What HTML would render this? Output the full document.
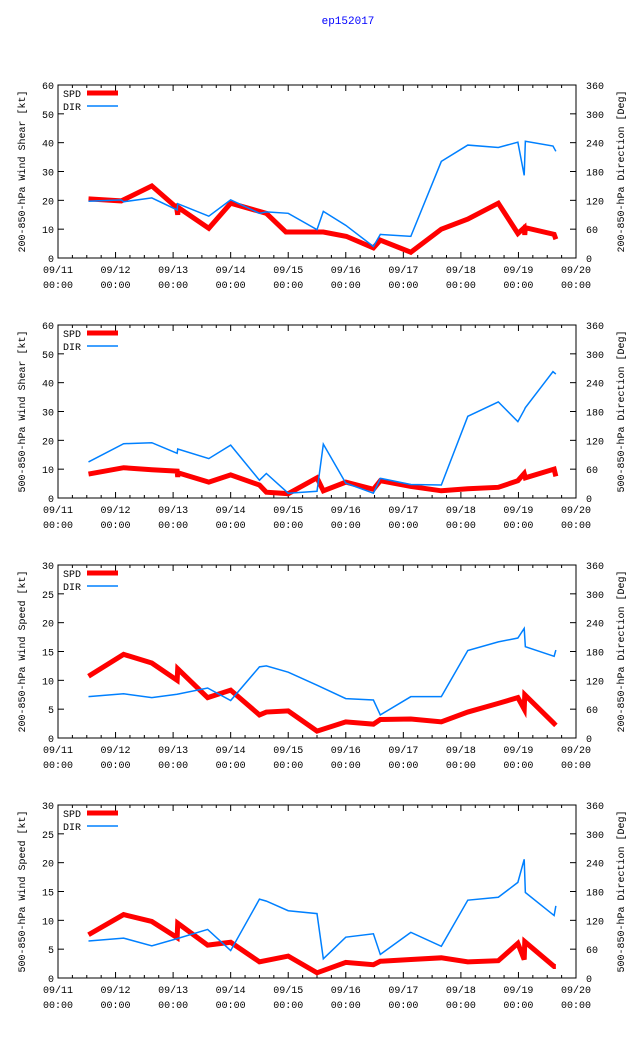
<!DOCTYPE html>
<html><head><meta charset="utf-8"><style>
body{margin:0;background:#fff}
svg{display:block;font-family:"Liberation Mono","DejaVu Sans Mono",monospace;font-size:10px}
</style></head><body>
<svg id="chart" width="640" height="1060">
<text x="348" y="24" fill="#0000ff" text-anchor="middle" font-size="11">ep152017</text>
</svg>
<script>
const xTickLabels=["09/11","09/12","09/13","09/14","09/15","09/16","09/17","09/18","09/19","09/20"];
const panelTitlesLeft=["200-850-hPa Wind Shear [kt]","500-850-hPa Wind Shear [kt]","200-850-hPa Wind Speed [kt]","500-850-hPa Wind Speed [kt]"];
const panelTitlesRight=["200-850-hPa Direction [Deg]","500-850-hPa Direction [Deg]","200-850-hPa Direction [Deg]","500-850-hPa Direction [Deg]"];
const leftMax=[60,60,30,30];
const rightTicks=[0,60,120,180,240,300,360];
const spd1=[[0.53,20.5],[1.1,19.8],[1.63,25],[2.06,17.5],[2.08,15],[2.09,17.5],[2.62,10.3],[3.0,19],[3.62,15.5],[3.96,9],[4.61,9],[5.01,7.5],[5.48,3.5],[5.6,6.2],[6.13,2],[6.66,10],[7.12,13.5],[7.65,19],[7.99,8.5],[8.1,10.5],[8.11,8],[8.12,10.5],[8.62,8.2],[8.65,6.5]];
const dir1=[[0.53,118],[1.1,121],[1.14,117],[1.63,125],[2.07,100],[2.08,113],[2.62,87],[3.0,121],[3.5,93],[3.62,96],[4.0,93],[4.5,59],[4.61,97],[5.0,68],[5.48,24],[5.6,49],[6.13,45],[6.66,201],[7.12,235],[7.65,230],[7.99,241],[8.1,172],[8.12,243],[8.6,233],[8.65,222]];
const spd2=[[0.53,8.3],[1.14,10.5],[1.63,9.8],[2.07,9.3],[2.08,7.3],[2.09,8.7],[2.62,5.5],[3.0,8],[3.5,4.5],[3.62,2],[4.0,1.5],[4.5,7],[4.61,2.5],[5.0,5.5],[5.48,3],[5.6,6],[6.13,4],[6.66,2.5],[7.12,3.2],[7.65,3.7],[7.99,6],[8.1,8.5],[8.12,7],[8.62,10],[8.65,7.5]];
const dir2=[[0.53,75],[1.14,113],[1.63,115],[2.07,93],[2.08,102],[2.62,82],[3.0,110],[3.5,37],[3.62,51],[4.0,10],[4.5,14],[4.61,112],[5.0,31],[5.48,10],[5.6,41],[6.13,28],[6.66,27],[7.12,170],[7.65,200],[7.99,159],[8.1,183],[8.12,188],[8.6,263],[8.65,258]];
const spd3=[[0.53,10.7],[1.14,14.5],[1.63,13],[2.07,10],[2.08,12],[2.6,7],[3.0,8.3],[3.5,4],[3.62,4.5],[4.0,4.7],[4.5,1.2],[5.0,2.8],[5.48,2.4],[5.6,3.2],[6.13,3.3],[6.66,2.8],[7.12,4.5],[7.65,6],[7.99,7],[8.1,5],[8.11,7.5],[8.62,2.5],[8.65,2.8]];
const dir3=[[0.53,86],[1.14,92],[1.63,84],[2.07,91],[2.6,104],[3.0,78],[3.5,148],[3.62,150],[4.0,137],[4.5,110],[5.0,82],[5.48,79],[5.6,48],[6.13,86],[6.66,86],[7.12,182],[7.65,200],[7.99,208],[8.1,228],[8.12,190],[8.62,170],[8.65,183]];
const spd4=[[0.53,7.5],[1.14,11],[1.63,9.8],[2.07,7],[2.08,9.5],[2.6,5.7],[3.0,6.2],[3.5,2.8],[4.0,3.8],[4.5,0.9],[5.0,2.7],[5.48,2.3],[5.6,2.9],[6.13,3.2],[6.66,3.5],[7.12,2.8],[7.65,3],[7.99,6],[8.1,3.2],[8.11,6.3],[8.62,2],[8.65,2]];
const dir4=[[0.53,77],[1.14,83],[1.63,67],[2.07,82],[2.6,101],[3.0,57],[3.5,164],[3.62,160],[4.0,140],[4.5,134],[4.61,40],[5.0,85],[5.48,92],[5.6,49],[6.13,95],[6.66,66],[7.12,162],[7.65,168],[7.99,199],[8.1,247],[8.12,178],[8.62,130],[8.65,150]];
const spdSeries=[spd1,spd2,spd3,spd4];
const dirSeries=[dir1,dir2,dir3,dir4];

const svg=document.getElementById('chart');
const NS='http://www.w3.org/2000/svg';
function mk(tag,attrs,parent){const e=document.createElementNS(NS,tag);for(const k in attrs)e.setAttribute(k,attrs[k]);(parent||svg).appendChild(e);return e;}
const L=58,R=576,H=173,tops=[85,325,565,805];
for(let p=0;p<4;p++){
  const T=tops[p],B=T+H;
  const g=mk('g',{});
  
  
  const xs=d=>L+(R-L)*d/9;
  const yl=v=>B-H*v/leftMax[p];
  const yr=v=>B-H*v/360;
  const fr=mk('rect',{x:L,y:T,width:R-L,height:H,fill:'none',stroke:'#000','stroke-width':1},g);
  
  
  for(let i=0;i<=36;i++){const x=xs(i/4);const len=(i%4==0)?6:3;
    mk('line',{x1:x,y1:B,x2:x,y2:B-len,stroke:'#000'},g);mk('line',{x1:x,y1:T,x2:x,y2:T+len,stroke:'#000'},g);}
  xTickLabels.forEach((lab,i)=>{const x=xs(i);
    const t=mk('text',{x:x,y:B+15,'text-anchor':'middle'},g);t.textContent=lab;
    
    
    const t2=mk('text',{x:x,y:B+30,'text-anchor':'middle'},g);t2.textContent='00:00';
    
    });
  const step=leftMax[p]/6;
  for(let i=0;i<=6;i++){const v=i*step,y=yl(v);
    mk('line',{x1:L,y1:y,x2:L+6,y2:y,stroke:'#000'},g);
    const t=mk('text',{x:L-4,y:y+4,'text-anchor':'end'},g);t.textContent=v;
    
    }
  rightTicks.forEach(v=>{const y=yr(v);
    mk('line',{x1:R,y1:y,x2:R-6,y2:y,stroke:'#000'},g);
    const t=mk('text',{x:R+10,y:y+4},g);t.textContent=v;
    
    });
  const tl=mk('text',{transform:`translate(25,${T+H/2}) rotate(-90)`,'text-anchor':'middle'},g);tl.textContent=panelTitlesLeft[p];
  
  
  const tr=mk('text',{transform:`translate(624,${T+H/2}) rotate(-90)`,'text-anchor':'middle'},g);tr.textContent=panelTitlesRight[p];
  
  
  const sp=mk('polyline',{points:spdSeries[p].map(d=>xs(d[0])+','+yl(d[1])).join(' '),fill:'none',stroke:'#ff0000','stroke-width':5,'stroke-linejoin':'miter'},g);
  
  
  const dr=mk('polyline',{points:dirSeries[p].map(d=>xs(d[0])+','+yr(d[1])).join(' '),fill:'none',stroke:'#0080ff','stroke-width':1.5},g);
  
  
  const l1=mk('text',{x:63,y:T+12},g);l1.textContent='SPD';
  
  
  mk('line',{x1:87,y1:T+8,x2:118,y2:T+8,stroke:'#ff0000','stroke-width':5},g);
  const l2=mk('text',{x:63,y:T+25},g);l2.textContent='DIR';
  
  
  mk('line',{x1:87,y1:T+21,x2:118,y2:T+21,stroke:'#0080ff','stroke-width':1.5},g);
}
</script>
</body></html>
